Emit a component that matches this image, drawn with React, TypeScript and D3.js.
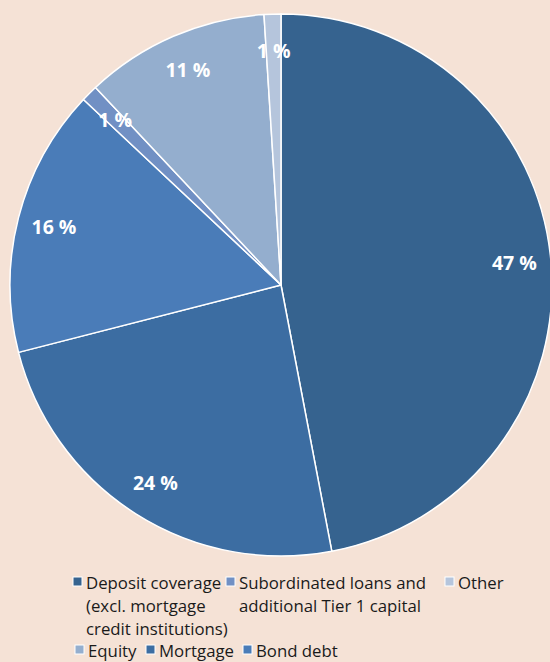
import React from "react";
import * as d3 from "d3";

const categories = [
  "Deposit coverage (excl. mortgage credit institutions)",
  "Mortgage",
  "Bond debt",
  "Subordinated loans and additional Tier 1 capital",
  "Equity",
  "Other",
];
const values = [47, 24, 16, 1, 11, 1];
const labels = ["47 %", "24 %", "16 %", "1 %", "11 %", "1 %"];
const colors = ["#36638f", "#3c6da2", "#4a7cb8", "#7190c4", "#94aece", "#b5c5dc"];

// legend order and line breaks as in the reference
const legendOrder = [0, 3, 5, 4, 1, 2];
const legendLines: Record<number, string[]> = {
  0: ["Deposit coverage", "(excl. mortgage", "credit institutions)"],
  3: ["Subordinated loans and", "additional Tier 1 capital"],
  5: ["Other"],
  4: ["Equity"],
  1: ["Mortgage"],
  2: ["Bond debt"],
};
// layout (pixels) for legend entries: marker x, row y
const legendPos: Record<number, { x: number; y: number }> = {
  0: { x: 73, y: 582 },
  3: { x: 226, y: 582 },
  5: { x: 445, y: 582 },
  4: { x: 75, y: 650 },
  1: { x: 146, y: 650 },
  2: { x: 243, y: 650 },
};

const W = 550;
const H = 662;
const cx = 281;
const cy = 285;
const R = 271;
const BG = "#f5e2d6";
const FONT = "'Open Sans', Lato, sans-serif";

export default function App() {
  const pie = d3
    .pie<number>()
    .sort(null)
    .value((d) => d)
    .startAngle(0)
    .endAngle(2 * Math.PI);
  const arcs = pie(values);
  const arc = d3.arc<d3.PieArcDatum<number>>().innerRadius(0).outerRadius(R);
  const labelArc = d3
    .arc<d3.PieArcDatum<number>>()
    .innerRadius(R * 0.865)
    .outerRadius(R * 0.865);

  return (
    <svg
      width={W}
      height={H}
      style={{ position: "absolute", left: 0, top: 0, background: BG }}
    >
      <rect x={0} y={0} width={W} height={H} fill={BG} />
      <g transform={`translate(${cx},${cy})`}>
        {arcs.map((a, i) => (
          <path
            key={i}
            d={arc(a) || ""}
            fill={colors[i]}
            stroke="#ffffff"
            strokeWidth={1.5}
            strokeLinejoin="round"
          >
            <title>{categories[i]}</title>
          </path>
        ))}
        {arcs.map((a, i) => {
          const [x, y] = labelArc.centroid(a);
          return (
            <text
              key={"l" + i}
              x={x}
              y={y}
              textAnchor="middle"
              dominantBaseline="central"
              fill="#ffffff"
              fontFamily={FONT}
              fontWeight="bold"
              fontSize={19.5}
            >
              {labels[i]}
            </text>
          );
        })}
      </g>
      <g>
        {legendOrder.map((i) => {
          const p = legendPos[i];
          const lines = legendLines[i];
          return (
            <g key={"lg" + i}>
              <rect
                x={p.x}
                y={p.y - 5}
                width={9}
                height={9}
                fill={colors[i]}
                stroke="#ffffff"
                strokeWidth={1}
              />
              {lines.map((ln, k) => (
                <text
                  key={k}
                  x={p.x + 13}
                  y={p.y + k * 23}
                  dominantBaseline="central"
                  fontFamily={FONT}
                  fontSize={16.8}
                  fill="#1a1a1a"
                >
                  {ln}
                </text>
              ))}
            </g>
          );
        })}
      </g>
    </svg>
  );
}
